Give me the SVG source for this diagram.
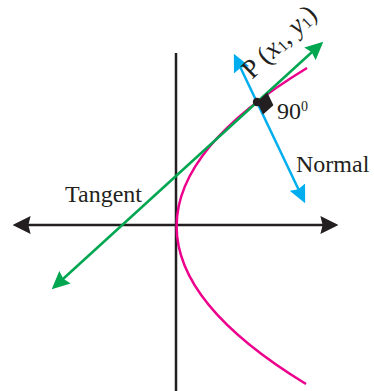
<svg xmlns="http://www.w3.org/2000/svg" width="374" height="391" viewBox="0 0 374 391">
<style>
  .axis{stroke:#231F20;stroke-width:2.5;fill:none}
  .tan{stroke:#00A650;stroke-width:2.5;fill:none}
  .nor{stroke:#00AEEF;stroke-width:2.5;fill:none}
  .curve{stroke:#EC008C;stroke-width:2.5;fill:none}
  .lbl{font-family:"Liberation Serif","Times New Roman",serif;font-size:24px;fill:#231F20}
</style>
<defs>
  <marker id="ahK" markerUnits="userSpaceOnUse" markerWidth="18" markerHeight="18" viewBox="0 0 16 16" refX="13" refY="8" orient="auto-start-reverse">
    <path d="M0,0 L16,8 L0,16 L2,8 z" fill="#231F20"/>
  </marker>
  <marker id="ahG" markerUnits="userSpaceOnUse" markerWidth="18" markerHeight="18" viewBox="0 0 16 16" refX="13" refY="8" orient="auto-start-reverse">
    <path d="M0,0.5 L16,8 L0,15.5 L2,8 z" fill="#00A650"/>
  </marker>
  <marker id="ahB" markerUnits="userSpaceOnUse" markerWidth="18" markerHeight="18" viewBox="0 0 16 16" refX="13" refY="8" orient="auto-start-reverse">
    <path d="M0,0.5 L16,8 L0,15.5 L2,8 z" fill="#00AEEF"/>
  </marker>
</defs>
<g id="connectors">
  <line id="x-axis" class="axis" x1="16" y1="225" x2="335" y2="225" marker-start="url(#ahK)" marker-end="url(#ahK)"/>
  <line id="y-axis" class="axis" x1="176" y1="53" x2="176" y2="391"/>
  <path id="parabola" class="curve" d="M307,68 Q46.7,226 306,384"/>
  <line id="tangent-line" class="tan" x1="54.2" y1="287" x2="320.8" y2="44" marker-start="url(#ahG)" marker-end="url(#ahG)"/>
  <line id="normal-line" class="nor" x1="235.3" y1="56.7" x2="303.7" y2="200.3" marker-start="url(#ahB)" marker-end="url(#ahB)"/>
</g>
<g id="point-P">
  <polygon points="257,102 267.3,92.6 273.4,105.2 263,114.6" fill="#231F20"/>
  <circle cx="257" cy="102" r="4.2" fill="#231F20"/>
  <text class="lbl" style="font-size:27px" transform="translate(252,80) rotate(-44)">P (<tspan font-style="italic">x</tspan><tspan font-size="16" dy="2">1</tspan><tspan dy="-2">, </tspan><tspan font-style="italic">y</tspan><tspan font-size="16" dy="2">1</tspan><tspan dy="-2">)</tspan></text>
</g>
<g id="angle-label">
  <text class="lbl" x="277" y="118.5">90<tspan font-size="14" dy="-8">0</tspan></text>
</g>
<g id="tangent-label">
  <text class="lbl" x="65" y="202">Tangent</text>
</g>
<g id="normal-label">
  <text class="lbl" x="296" y="172">Normal</text>
</g>
</svg>
